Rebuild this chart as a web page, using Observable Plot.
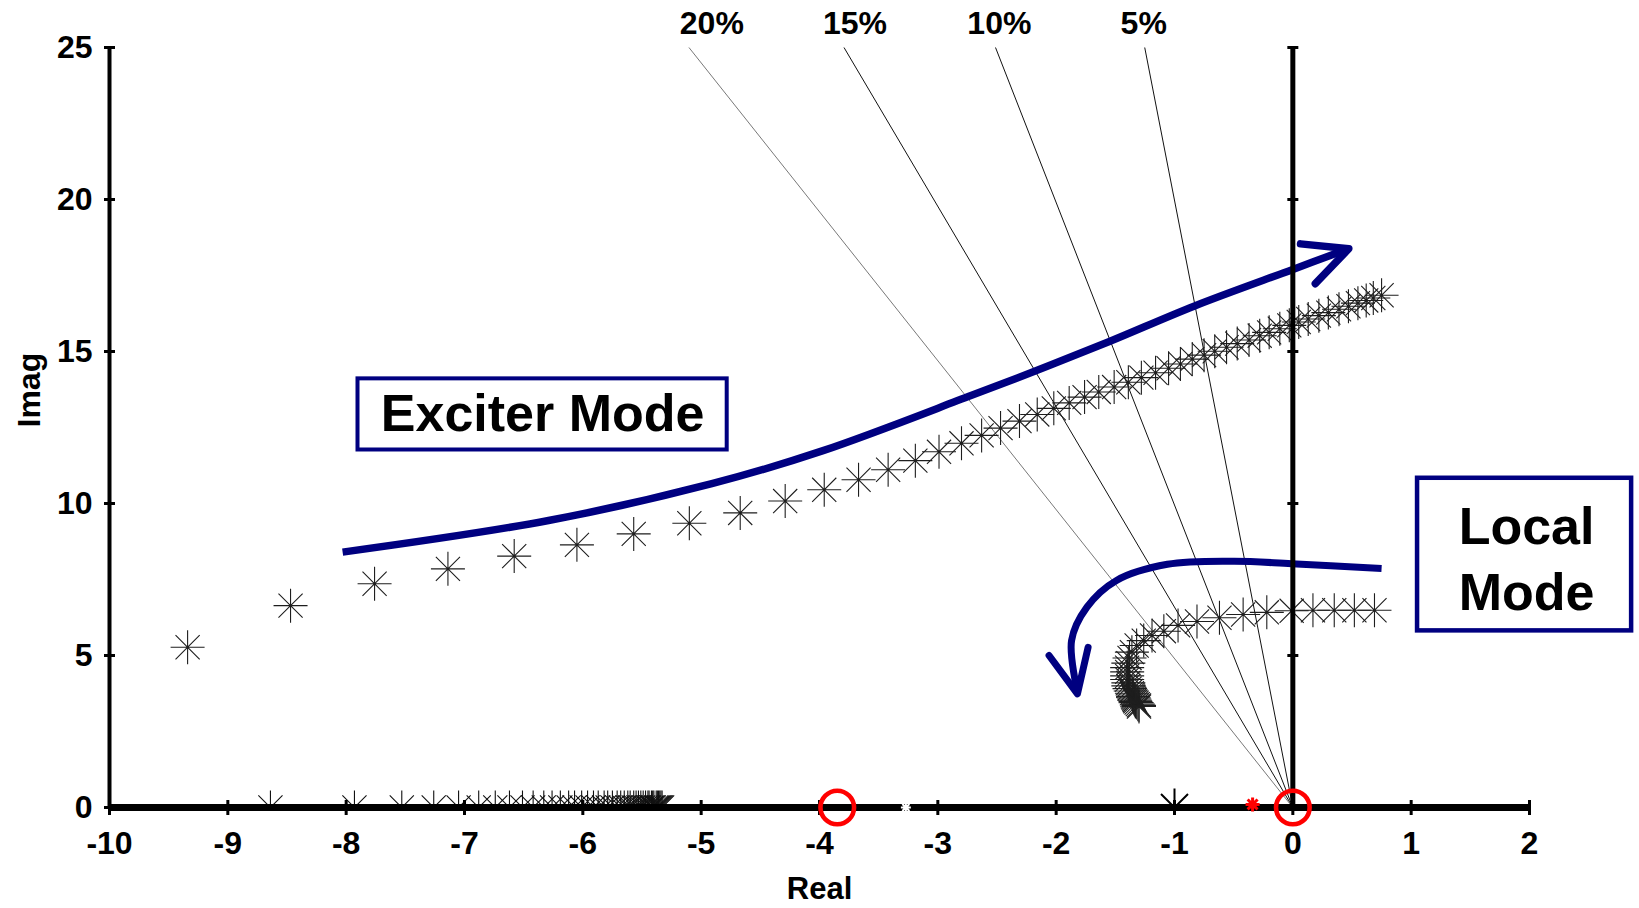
<!DOCTYPE html>
<html>
<head>
<meta charset="utf-8">
<script src="https://cdn.jsdelivr.net/npm/d3@7"></script>
<script src="https://cdn.jsdelivr.net/npm/@observablehq/plot@0.6"></script>
<style>
  html, body { margin: 0; padding: 0; background: #ffffff; }
  #chart svg { display: block; background: #ffffff; }
</style>
</head>
<body>
<div id="chart"></div>
<script>
// Root locus of the system eigenvalues as the exciter gain is raised.

// Exciter mode branch (complex pair, upper half plane)
const exciterReal = [-9.34, -8.47, -7.76, -7.14, -6.58, -6.05, -5.57, -5.10, -4.67, -4.29,
  -3.96, -3.67, -3.42, -3.19, -2.99, -2.80, -2.63, -2.47, -2.31, -2.16,
  -2.02, -1.89, -1.76, -1.64, -1.51, -1.39, -1.28, -1.16, -1.05, -0.95,
  -0.85, -0.75, -0.66, -0.56, -0.47, -0.37, -0.28, -0.20, -0.11, -0.03,
  0.05, 0.13, 0.22, 0.30, 0.39, 0.47, 0.55, 0.62, 0.68, 0.75];
const exciterImag = [5.27, 6.64, 7.36, 7.85, 8.27, 8.64, 9.00, 9.35, 9.69, 10.08,
  10.45, 10.78, 11.11, 11.41, 11.70, 11.98, 12.24, 12.48, 12.71, 12.93,
  13.13, 13.31, 13.50, 13.67, 13.83, 13.99, 14.14, 14.30, 14.45, 14.59,
  14.75, 14.88, 15.01, 15.14, 15.26, 15.38, 15.52, 15.63, 15.75, 15.86,
  15.97, 16.07, 16.18, 16.28, 16.39, 16.49, 16.59, 16.68, 16.76, 16.85];

// Local mode branch
const localReal = [0.69, 0.52, 0.35, 0.17, -0.01, -0.22, -0.42, -0.62, -0.81, -0.97,
  -1.09, -1.19, -1.26, -1.32, -1.36, -1.38, -1.39, -1.40, -1.40, -1.40,
  -1.40, -1.39, -1.39, -1.38, -1.37, -1.36, -1.355, -1.35, -1.345, -1.34,
  -1.335, -1.33, -1.32, -1.31, -1.30, -1.30];
const localImag = [6.49, 6.49, 6.49, 6.49, 6.47, 6.42, 6.35, 6.24, 6.12, 5.99,
  5.80, 5.66, 5.49, 5.33, 5.11, 4.92, 4.75, 4.60, 4.46, 4.33,
  4.21, 4.10, 4.00, 3.91, 3.83, 3.76, 3.70, 3.65, 3.61, 3.57,
  3.53, 3.49, 3.45, 3.40, 3.36, 3.32];

// Real root moving along the negative real axis
const realBranch = [-8.64, -7.93, -7.53, -7.26, -7.05, -6.88, -6.74, -6.62, -6.51, -6.42,
  -6.33, -6.26, -6.19, -6.12, -6.07, -6.01, -5.96, -5.91, -5.87, -5.82,
  -5.79, -5.75, -5.71, -5.68, -5.65, -5.62, -5.60, -5.57, -5.55, -5.53,
  -5.51, -5.49, -5.47, -5.45, -5.44, -5.42, -5.41, -5.40, -5.38, -5.37,
  -5.36, -5.35, -5.34, -5.33];

// Other roots and zeros on the real axis
const fixedPole = [-1];
const redPole = [-0.34];
const whitePole = [-3.27];
const zerosReal = [-3.85, 0];

// Constant damping ratio rays
const dampingRatios = [0.20, 0.15, 0.10, 0.05];
const dampingLabels = ["20%", "15%", "10%", "5%"];

// Axis ticks
const xTicks = [-10, -9, -8, -7, -6, -5, -4, -3, -2, -1, 0, 1, 2];
const xTickLabels = ["-10", "-9", "-8", "-7", "-6", "-5", "-4", "-3", "-2", "-1", "0", "1", "2"];
const yTicks = [0, 5, 10, 15, 20, 25];
const yTickLabels = ["0", "5", "10", "15", "20", "25"];

// Curved annotation arrows (real, imag)
const exciterArrowPath = [[-8.03, 8.40], [-6.29, 9.44], [-4.91, 10.65], [-3.97, 11.74], [-2.72, 13.55],
  [-2.15, 14.40], [-1.55, 15.33], [-0.83, 16.50], [0.0, 17.70], [0.47, 18.38]];
const exciterArrowHead = [[0.065, 18.54], [0.473, 18.38], [0.19, 17.23]];
const localArrowPath = [[0.75, 7.86], [-0.01, 8.02], [-0.50, 8.10], [-1.06, 8.00], [-1.49, 7.47],
  [-1.74, 6.59], [-1.87, 5.49], [-1.82, 3.80]];
const localArrowHead = [[-2.06, 5.0], [-1.82, 3.74], [-1.73, 5.27]];

// ---------------------------------------------------------------
const FONT = "'Liberation Sans', Arial, Helvetica, sans-serif";
const NAVY = "#000080";

// Eight-armed asterisk marker
const star8 = {
  draw(ctx, size) {
    const r = Math.sqrt(size / Math.PI);
    const d = r * 0.71;
    ctx.moveTo(0, -r); ctx.lineTo(0, r);
    ctx.moveTo(-r, 0); ctx.lineTo(r, 0);
    ctx.moveTo(-d, -d); ctx.lineTo(d, d);
    ctx.moveTo(-d, d); ctx.lineTo(d, -d);
  }
};
// Short tick segments crossing the axis lines
const vbar = { draw(ctx, size) { const r = Math.sqrt(size / Math.PI); ctx.moveTo(0, -r); ctx.lineTo(0, r); } };
const hbar = { draw(ctx, size) { const r = Math.sqrt(size / Math.PI); ctx.moveTo(-r, 0); ctx.lineTo(r, 0); } };

const exciter = exciterReal.map((re, i) => ({re, im: exciterImag[i]}));
const local = localReal.map((re, i) => ({re, im: localImag[i]}));
const rays = dampingRatios.map((z, i) => ({
  z, label: dampingLabels[i],
  topRe: -25 * z / Math.sqrt(1 - z * z)
}));
// label placement above the top of each ray
const rayLabelRe = [-4.91, -3.70, -2.48, -1.26];
const xTickData = xTicks.map((v, i) => ({v, label: xTickLabels[i]}));
const yTickData = yTicks.map((v, i) => ({v, label: yTickLabels[i]}));

const chart = Plot.plot({
  width: 1639,
  height: 908,
  marginLeft: 109,
  marginRight: 110,
  marginTop: 47,
  marginBottom: 101,
  x: {domain: [-10, 2], axis: null},
  y: {domain: [0, 25], axis: null},
  marks: [
    // damping ratio rays from the origin
    Plot.link(rays, {
      x1: () => 0, y1: () => 0, x2: "topRe", y2: () => 25,
      stroke: d => d.z === 0.2 ? "#555" : "#111",
      strokeWidth: d => d.z === 0.2 ? 0.8 : 1
    }),
    Plot.text(rays, {
      x: (d, i) => rayLabelRe[i], y: () => 25, dy: -24, text: "label",
      fontFamily: FONT, fontWeight: "bold", fontSize: 32, fill: "#000", lineAnchor: "middle"
    }),

    // locus branches
    Plot.dot(realBranch, {x: d => d, y: () => 0, symbol: star8, r: 17, fill: "none",
      stroke: "#111", strokeWidth: 1.1, clip: true}),
    Plot.dot(exciter, {x: "re", y: "im", symbol: star8, r: 17, fill: "none",
      stroke: "#1e1e1e", strokeWidth: 1.1}),
    Plot.dot(local, {x: "re", y: "im", symbol: star8, r: 17, fill: "none",
      stroke: "#1e1e1e", strokeWidth: 1.1}),
    Plot.dot(fixedPole, {x: d => d, y: () => 0, symbol: star8, r: 19, fill: "none",
      stroke: "#000", strokeWidth: 2, clip: true}),

    // annotation arrows
    Plot.line(exciterArrowPath, {x: "0", y: "1", curve: "catmull-rom", stroke: NAVY,
      strokeWidth: 7.5, strokeLinecap: "butt"}),
    Plot.line(exciterArrowHead, {x: "0", y: "1", stroke: NAVY, strokeWidth: 7.5,
      strokeLinecap: "round", strokeLinejoin: "round"}),
    Plot.line(localArrowPath, {x: "0", y: "1", curve: "catmull-rom", stroke: NAVY,
      strokeWidth: 7, strokeLinecap: "butt"}),
    Plot.line(localArrowHead, {x: "0", y: "1", stroke: NAVY, strokeWidth: 7,
      strokeLinecap: "round", strokeLinejoin: "round"}),

    // mode labels
    Plot.rect([{x1: -7.90, x2: -4.78, y1: 11.76, y2: 14.10}], {
      x1: "x1", x2: "x2", y1: "y1", y2: "y2", fill: "#fff", stroke: NAVY, strokeWidth: 4
    }),
    Plot.text(["Exciter Mode"], {x: () => -6.34, y: () => 12.93, text: d => d,
      fontFamily: FONT, fontWeight: "bold", fontSize: 52, fill: "#000", lineAnchor: "middle"}),
    Plot.rect([{x1: 1.054, x2: 2.863, y1: 5.81, y2: 10.83}], {
      x1: "x1", x2: "x2", y1: "y1", y2: "y2", fill: "#fff", stroke: NAVY, strokeWidth: 4.5
    }),
    Plot.text(["Local\nMode"], {x: () => 1.975, y: () => 8.27, text: d => d,
      fontFamily: FONT, fontWeight: "bold", fontSize: 52, lineHeight: 1.27, fill: "#000",
      lineAnchor: "middle"}),

    // axes: left spine, imaginary axis at zero, real axis
    Plot.ruleX([-10], {stroke: "#000", strokeWidth: 4}),
    Plot.ruleX([0], {stroke: "#000", strokeWidth: 5}),
    Plot.ruleY([0], {stroke: "#000", strokeWidth: 7}),
    Plot.dot(xTicks, {x: d => d, y: () => 0, symbol: vbar, r: 7.5, fill: "none",
      stroke: "#000", strokeWidth: 3}),
    Plot.dot(yTicks, {x: () => -10, y: d => d, symbol: hbar, r: 5.5, fill: "none",
      stroke: "#000", strokeWidth: 3}),
    Plot.dot(yTicks.filter(v => v > 0), {x: () => 0, y: d => d, symbol: hbar, r: 5.5, fill: "none",
      stroke: "#000", strokeWidth: 3}),

    // poles and zeros drawn over the axis
    Plot.dot(whitePole, {x: d => d, y: () => 0, symbol: star8, r: 5, fill: "none",
      stroke: "#fff", strokeWidth: 2}),
    Plot.dot(redPole, {x: d => d, y: () => 0.1, symbol: star8, r: 7, fill: "none",
      stroke: "#ff0000", strokeWidth: 3}),
    Plot.dot(zerosReal, {x: d => d, y: () => 0, r: 16.8, fill: "none",
      stroke: "#ff0000", strokeWidth: 4.6}),

    // tick labels
    Plot.text(xTickData, {x: "v", y: () => 0, dy: 36, text: "label",
      fontFamily: FONT, fontWeight: "bold", fontSize: 32, fill: "#000", lineAnchor: "middle"}),
    Plot.text(yTickData, {x: () => -10, y: "v", dx: -17, text: "label", textAnchor: "end",
      fontFamily: FONT, fontWeight: "bold", fontSize: 32, fill: "#000", lineAnchor: "middle"}),

    // axis titles
    Plot.text(["Real"], {frameAnchor: "bottom", dy: 82, text: d => d, lineAnchor: "middle",
      fontFamily: FONT, fontWeight: "bold", fontSize: 31, fill: "#000"}),
    Plot.text(["Imag"], {frameAnchor: "left", dx: -80, rotate: -90, text: d => d, lineAnchor: "middle",
      fontFamily: FONT, fontWeight: "bold", fontSize: 32, fill: "#000"})
  ]
});

document.getElementById("chart").appendChild(chart);
</script>
</body>
</html>
